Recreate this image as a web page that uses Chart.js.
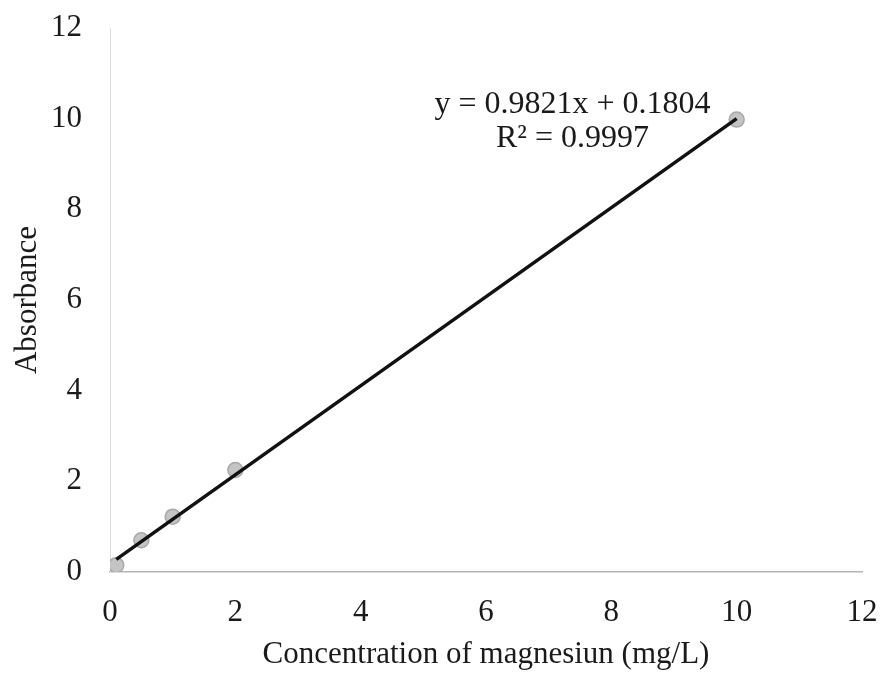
<!DOCTYPE html>
<html>
<head>
<meta charset="utf-8">
<script src="https://cdn.jsdelivr.net/npm/chart.js@4.4.1/dist/chart.umd.min.js"></script>
<style>
  html, body { margin: 0; padding: 0; background: #fff; }
  #wrap { width: 883px; height: 673px; }
</style>
</head>
<body>
<div id="wrap"><canvas id="chart"></canvas></div>
<script>
// measured points (concentration mg/L, absorbance)
const concentration = [0.1, 0.5, 1, 2, 10];
const absorbance = [0.15, 0.7, 1.22, 2.25, 9.98];

// linear trendline as printed on the chart
const slope = 0.9821;
const intercept = 0.1804;
const r2 = 0.9997;

const xTicks = [0, 2, 4, 6, 8, 10, 12];
const yTicks = [0, 2, 4, 6, 8, 10, 12];

const serif = "'Liberation Serif', 'Times New Roman', serif";
const textColor = '#1a1a1a';

const xMin = Math.min(...concentration);
const xMax = Math.max(...concentration);
const trend = [
    {x: xMin, y: slope * xMin + intercept},
    {x: xMax, y: slope * xMax + intercept}
];

const equationLabel = {
    id: 'equationLabel',
    afterDatasetsDraw(chart) {
        const ctx = chart.ctx;
        const xs = chart.scales.x;
        const ys = chart.scales.y;
        ctx.save();
        ctx.fillStyle = textColor;
        ctx.font = '32px ' + serif;
        ctx.textAlign = 'center';
        ctx.textBaseline = 'middle';
        const cx = xs.getPixelForValue(7.38);
        ctx.fillText('y = ' + slope + 'x + ' + intercept, cx, ys.getPixelForValue(10.3));
        ctx.fillText('R\u00B2 = ' + r2, cx, ys.getPixelForValue(9.55));
        ctx.restore();
    }
};

new Chart(document.getElementById('chart'), {
    type: 'scatter',
    data: {
        datasets: [
            {
                type: 'line',
                label: 'Linear',
                data: trend,
                borderColor: '#111',
                borderWidth: 3.5,
                pointRadius: 0,
                fill: false,
                order: 1
            },
            {
                label: 'Absorbance',
                data: concentration.map((c, i) => ({x: c, y: absorbance[i]})),
                backgroundColor: '#c4c4c4',
                borderColor: '#a8a8a8',
                borderWidth: 1.5,
                pointRadius: 7.5,
                order: 2
            }
        ]
    },
    options: {
        responsive: true,
        maintainAspectRatio: false,
        animation: false,
        layout: {padding: {top: 28, right: 21, left: 0, bottom: 0}},
        plugins: {
            legend: {display: false},
            tooltip: {enabled: false}
        },
        scales: {
            x: {
                type: 'linear',
                min: 0,
                max: 12,
                afterBuildTicks: axis => { axis.ticks = xTicks.map(v => ({value: v})); },
                afterFit: axis => {
                    axis.height = 101;
                    axis.paddingLeft = 0;
                    axis.paddingRight = 0;
                },
                grid: {display: false, drawTicks: false},
                border: {display: true, color: '#b5b5b5', width: 1.5},
                ticks: {padding: 22, color: textColor, font: {family: serif, size: 31}},
                title: {
                    display: true,
                    text: 'Concentration of magnesiun (mg/L)',
                    color: textColor,
                    font: {family: serif, size: 31},
                    padding: {top: 2, bottom: 0}
                }
            },
            y: {
                type: 'linear',
                min: 0,
                max: 12,
                afterBuildTicks: axis => { axis.ticks = yTicks.map(v => ({value: v})); },
                afterFit: axis => {
                    axis.width = 110;
                    axis.paddingTop = 0;
                    axis.paddingBottom = 0;
                },
                grid: {display: false, drawTicks: false},
                border: {display: true, color: '#dcdcdc', width: 1},
                ticks: {padding: 28, color: textColor, font: {family: serif, size: 31}},
                title: {
                    display: true,
                    text: 'Absorbance',
                    color: textColor,
                    font: {family: serif, size: 31},
                    padding: {top: 9, bottom: 0}
                }
            }
        }
    },
    plugins: [equationLabel]
});
</script>
</body>
</html>
